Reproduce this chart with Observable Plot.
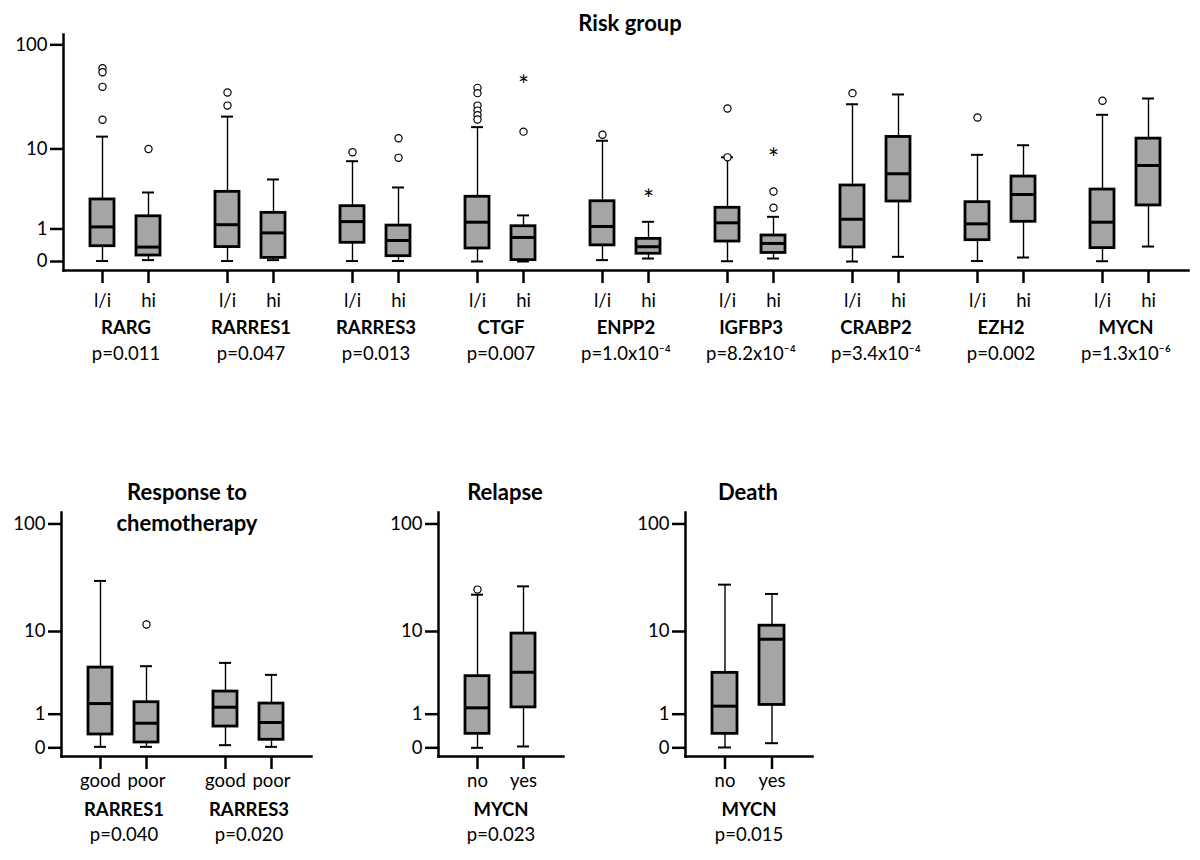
<!DOCTYPE html>
<html><head><meta charset="utf-8">
<script src="https://cdn.jsdelivr.net/npm/d3@7"></script>
<script src="https://cdn.jsdelivr.net/npm/@observablehq/plot@0.6"></script>
<style>
body{margin:0;background:#fff;font-family:Lato, sans-serif;}
#root{position:relative;width:1200px;height:860px;overflow:hidden;}
.panel{position:absolute;}
.title{position:absolute;font-weight:bold;font-size:22px;text-align:center;line-height:31px;color:#000;white-space:nowrap;}
</style></head><body><div id="root"></div>
<script>
// ---- Risk group (top panel) ----
const riskGroups = ["l/i","hi"];
const riskGenes = ["RARG","RARRES1","RARRES3","CTGF","ENPP2","IGFBP3","CRABP2","EZH2","MYCN"];
const riskP = ["p=0.011","p=0.047","p=0.013","p=0.007","p=1.0x10⁻⁴","p=8.2x10⁻⁴","p=3.4x10⁻⁴","p=0.002","p=1.3x10⁻⁶"];
// each entry: [l/i, hi]
const riskLow  = [[0.01,0.03],[0.01,0.03],[0.01,0.01],[0,0],[0.03,0.066],[0.006,0.066],[0,0.105],[0.01,0.089],[0.006,0.376]];
const riskQ1   = [[0.385,0.136],[0.36,0.08],[0.49,0.12],[0.32,0.03],[0.41,0.18],[0.53,0.2],[0.35,2.59],[0.575,1.33],[0.33,2.30]];
const riskMed  = [[1.09,0.36],[1.19,0.84],[1.34,0.564],[1.31,0.67],[1.11,0.37],[1.28,0.47],[1.46,5.48],[1.23,3.17],[1.31,6.73]];
const riskQ3   = [[2.75,1.62],[3.41,1.82],[2.25,1.15],[2.97,1.12],[2.61,0.62],[2.14,0.74],[4.05,13.2],[2.54,5.11],[3.63,12.7]];
const riskHigh = [[13.3,3.35],[20.9,4.74],[7.47,3.84],[16.5,1.67],[12.1,1.33],[8.2,1.59],[27.5,34.1],[8.7,10.9],[21.75,31.2]];
// [gene, group, value, kind]  kind: "o" circle, "*" extreme
const riskOutliers = [
  ["RARG","l/i",60.4,"o"],["RARG","l/i",55.4,"o"],["RARG","l/i",40.3,"o"],["RARG","l/i",19.5,"o"],
  ["RARG","hi",10.0,"o"],
  ["RARRES1","l/i",35.6,"o"],["RARRES1","l/i",26.7,"o"],
  ["RARRES3","l/i",9.26,"o"],["RARRES3","hi",12.8,"o"],["RARRES3","hi",8.1,"o"],
  ["CTGF","l/i",39.4,"o"],["CTGF","l/i",35.1,"o"],["CTGF","l/i",26.7,"o"],["CTGF","l/i",23.9,"o"],["CTGF","l/i",21.6,"o"],["CTGF","l/i",19.6,"o"],
  ["CTGF","hi",46.2,"*"],["CTGF","hi",14.9,"o"],
  ["ENPP2","l/i",13.9,"o"],["ENPP2","hi",3.17,"*"],
  ["IGFBP3","l/i",25.0,"o"],["IGFBP3","l/i",8.2,"o"],
  ["IGFBP3","hi",8.98,"*"],["IGFBP3","hi",3.44,"o"],["IGFBP3","hi",2.14,"o"],
  ["CRABP2","l/i",35.1,"o"],["EZH2","l/i",20.5,"o"],["MYCN","l/i",29.7,"o"]
];

// ---- Response to chemotherapy ----
const respGroups = ["good","poor"];
const respGenes = ["RARRES1","RARRES3"];
const respP = ["p=0.040","p=0.020"];
const respLow  = [[0.02,0.02],[0.056,0.02]];
const respQ1   = [[0.316,0.116],[0.55,0.18]];
const respMed  = [[1.49,0.66],[1.31,0.685]];
const respQ3   = [[4.23,1.56],[2.19,1.49]];
const respHigh = [[30.2,4.38],[4.76,3.50]];
const respOutliers = [["RARRES1","poor",11.7,"o"]];

// ---- Relapse ----
const relGroups = ["no","yes"];
const relGenes = ["MYCN"];
const relP = ["p=0.023"];
const relLow  = [[0,0.028]];
const relQ1   = [[0.334,1.30]];
const relMed  = [[1.28,3.75]];
const relQ3   = [[3.38,9.54]];
const relHigh = [[22.5,26.9]];
const relOutliers = [["MYCN","no",25.1,"o"]];

// ---- Death ----
const deathGroups = ["no","yes"];
const deathGenes = ["MYCN"];
const deathP = ["p=0.015"];
const deathLow  = [[0.007,0.10]];
const deathQ1   = [[0.334,1.42]];
const deathMed  = [[1.36,8.38]];
const deathQ3   = [[3.69,11.4]];
const deathHigh = [[27.9,22.85]];
const deathOutliers = [];

const yTicks = [0,1,10,100];

function boxPanel(o) {
  const rows = [];
  o.genes.forEach((g,i)=>o.groups.forEach((grp,j)=>rows.push({
    gene:g, group:grp, low:o.low[i][j], q1:o.q1[i][j], med:o.med[i][j], q3:o.q3[i][j], high:o.high[i][j]
  })));
  const geneRows = o.genes.map((g,i)=>({gene:g, p:o.pvals[i]}));
  const circles = o.outliers.filter(d=>d[3]==="o").map(([gene,group,value])=>({gene,group,value}));
  const stars = o.outliers.filter(d=>d[3]==="*").map(([gene,group,value])=>({gene,group,value}));
  return Plot.plot({
    width:o.width, height:o.height,
    marginLeft:o.marginLeft, marginRight:o.marginRight, marginTop:o.marginTop, marginBottom:o.marginBottom,
    style:{background:"transparent", fontFamily:"Lato, sans-serif", fontSize:"18px", color:"black", overflow:"visible"},
    fx:{domain:o.genes, paddingInner:0, paddingOuter:0, axis:null, label:null},
    x:{domain:o.groups, paddingInner:0.468, paddingOuter:0.569, axis:null, label:null},
    y:{type:"symlog", constant:1, domain:o.yDomain, axis:null, label:null},
    marks:[
      Plot.frame({anchor:"left", facet:"super", strokeWidth:2.5}),
      Plot.frame({anchor:"bottom", facet:"super", strokeWidth:2.5}),
      Plot.axisY({ticks:yTicks, tickFormat:d=>String(d), tickSize:13, tickPadding:3, strokeWidth:2.5, fontSize:18.5, label:null, anchor:"left"}),
      Plot.axisX({tickSize:13, tickPadding:o.xPad, strokeWidth:2.5, fontSize:18.5, label:null}),
      Plot.ruleX(rows, {fx:"gene", x:"group", y1:"low", y2:"high", strokeWidth:1.4}),
      Plot.tickY(rows, {fx:"gene", x:"group", y:"low", inset:6, strokeWidth:2}),
      Plot.tickY(rows, {fx:"gene", x:"group", y:"high", inset:6, strokeWidth:2}),
      Plot.barY(rows, {fx:"gene", x:"group", y1:"q1", y2:"q3", fill:"#a5a5a5", stroke:"black", strokeWidth:2.8}),
      Plot.tickY(rows, {fx:"gene", x:"group", y:"med", strokeWidth:3}),
      Plot.dot(circles, {fx:"gene", x:"group", y:"value", r:3.6, stroke:"black", fill:"white", strokeWidth:1.2}),
      Plot.text(stars, {fx:"gene", x:"group", y:"value", text:()=>"*", fontSize:26, fill:"black", dy:6}),
      Plot.text(geneRows, {fx:"gene", text:"gene", frameAnchor:"bottom", dy:o.labelDy[0], fontWeight:"bold", fontSize:18.5}),
      Plot.text(geneRows, {fx:"gene", text:"p", frameAnchor:"bottom", dy:o.labelDy[1], fontSize:18.5})
    ]
  });
}

const root = document.getElementById("root");
function place(node, left, top) {
  const div = document.createElement("div");
  div.className = "panel";
  div.style.left = left + "px";
  div.style.top = top + "px";
  div.appendChild(node);
  root.appendChild(div);
}
function title(text, cx, top) {
  const div = document.createElement("div");
  div.className = "title";
  div.style.left = (cx - 150) + "px";
  div.style.width = "300px";
  div.style.top = top + "px";
  div.innerHTML = text;
  root.appendChild(div);
}

place(boxPanel({genes:riskGenes, groups:riskGroups, pvals:riskP, low:riskLow, q1:riskQ1, med:riskMed, q3:riskQ3, high:riskHigh, outliers:riskOutliers,
  width:1200, height:380, marginLeft:60, marginRight:10, marginTop:34, marginBottom:110, yDomain:[-0.211,124.9], xPad:10, labelDy:[63,89]}), 0, 0);

const bottomCommon = {height:360, marginTop:12, marginBottom:104, yDomain:[-0.196,126.9], xPad:4, labelDy:[59,84]};
place(boxPanel({...bottomCommon, genes:respGenes, groups:respGroups, pvals:respP, low:respLow, q1:respQ1, med:respMed, q3:respQ3, high:respHigh, outliers:respOutliers,
  width:330, marginLeft:60, marginRight:19}), 0, 500);
place(boxPanel({...bottomCommon, genes:relGenes, groups:relGroups, pvals:relP, low:relLow, q1:relQ1, med:relMed, q3:relQ3, high:relHigh, outliers:relOutliers,
  width:200, marginLeft:68, marginRight:7}), 370, 500);
place(boxPanel({...bottomCommon, genes:deathGenes, groups:deathGroups, pvals:deathP, low:deathLow, q1:deathQ1, med:deathMed, q3:deathQ3, high:deathHigh, outliers:deathOutliers,
  width:200, marginLeft:65, marginRight:8}), 620, 500);

title("Risk group", 630, 7);
title("Response to<br>chemotherapy", 187, 476);
title("Relapse", 505, 476);
title("Death", 748, 476);
</script>
</body></html>
